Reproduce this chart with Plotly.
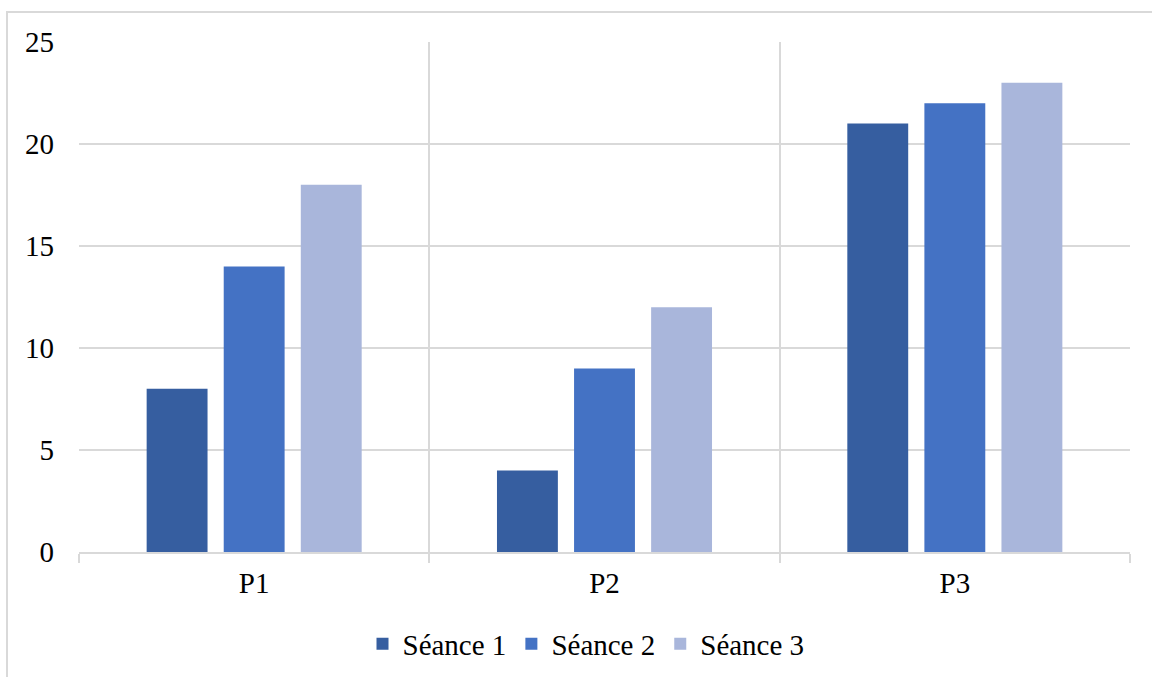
import plotly.graph_objects as go

# Participants and scores per session
categories = ["P1", "P2", "P3"]
seance_1 = [8, 4, 21]
seance_2 = [14, 9, 22]
seance_3 = [18, 12, 23]
series_names = ["Séance 1", "Séance 2", "Séance 3"]
y_ticks = [0, 5, 10, 15, 20, 25]

colors = ["#365EA0", "#4472C4", "#A9B6DB"]
grid = "#D9D9D9"
font_family = '"Liberation Serif", "Times New Roman", serif'
fs = 29

fig = go.Figure()
for name, values, color in zip(series_names, [seance_1, seance_2, seance_3], colors):
    fig.add_trace(go.Bar(
        x=categories, y=values, name=name,
        marker=dict(color=color, line=dict(width=0)),
    ))

W, H = 1152, 677
L, R, T, B = 79, 22, 42, 125
pw, ph = W - L - R, H - T - B

fig.update_layout(
    width=W, height=H,
    margin=dict(l=L, r=R, t=T, b=B, autoexpand=False),
    barmode="group", bargap=0.34, bargroupgap=0.21,
    plot_bgcolor="white", paper_bgcolor="white",
    font=dict(family=font_family, size=fs, color="#000000"),
    showlegend=True,
    legend=dict(
        orientation="h", x=(586 - L) / pw, xanchor="center",
        y=(ph + T - 644) / ph, yanchor="middle",
        font=dict(family=font_family, size=fs),
        bgcolor="rgba(0,0,0,0)",
    ),
    xaxis=dict(
        type="category", tickson="boundaries", range=[-0.5, 2.5],
        automargin=False,
        showgrid=True, gridcolor=grid, gridwidth=1.5,
        ticks="outside", ticklen=9, tickcolor=grid, tickwidth=1.5,
        showline=True, linecolor=grid, linewidth=2,
        ticklabelstandoff=4,
        tickfont=dict(family=font_family, size=fs),
    ),
    yaxis=dict(
        range=[0, 25], tickvals=y_ticks, automargin=False,
        showgrid=True, gridcolor=grid, gridwidth=1.5,
        zeroline=False, showline=False, ticks="",
        ticklabelstandoff=24,
        tickfont=dict(family=font_family, size=fs),
    ),
    shapes=[
        # chart area frame
        dict(type="rect", xref="paper", yref="paper",
             x0=(7 - L) / pw, x1=(W + 10 - L) / pw,
             y0=(T + ph - (H + 10)) / ph, y1=(T + ph - 12) / ph,
             line=dict(color=grid, width=2), fillcolor="rgba(0,0,0,0)",
             layer="below"),
    ],
)

fig.write_html("out.html")
